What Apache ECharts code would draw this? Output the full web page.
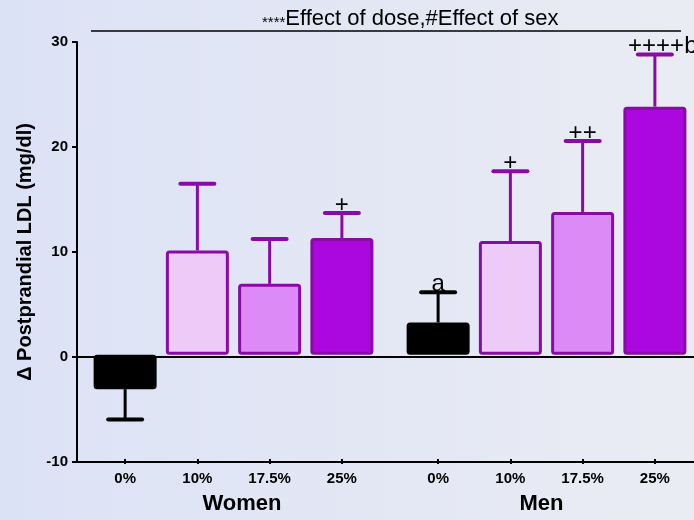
<!DOCTYPE html>
<html>
<head>
<meta charset="utf-8">
<script src="https://cdn.jsdelivr.net/npm/echarts@6/dist/echarts.min.js"></script>
<style>
  html, body { margin: 0; padding: 0; }
  #chart { width: 694px; height: 520px; }
</style>
</head>
<body>
<div id="chart"></div>
<script>
// Dose groups and group values (mean change, SEM, significance marks)
const doses = ['0%', '10%', '17.5%', '25%'];
const womenMean = [-3.3, 10.0, 6.8, 11.2];
const womenErr = [2.9, 6.4, 4.3, 2.4];
const womenMarks = ['', '', '', '+'];
const menMean = [3.1, 10.9, 13.7, 23.8];
const menErr = [2.9, 6.7, 6.8, 5.0];
const menMarks = ['a', '+', '++', '++++b'];
const yTicks = { min: -10, max: 30, step: 10 };
const titleStars = '****';
const titleText = 'Effect of dose,#Effect of sex';
const yName = 'Δ Postprandial LDL (mg/dl)';

const fills = ['#000000', '#eecaf8', '#dc8af6', '#ab08df'];
const edges = ['#000000', '#8a0aa8', '#8a0aa8', '#8a0aa8'];
const FONT = '"Liberation Sans", Arial, sans-serif';

const chart = echarts.init(document.getElementById('chart'));

function barData(means) {
  return means.map((v, i) => ({
    value: v,
    itemStyle: { color: fills[i], borderColor: edges[i], borderWidth: 3, borderRadius: 2 }
  }));
}

function errData(means, errs) {
  return means.map((v, i) => [i, v, errs[i]]);
}

// SEM whisker: stem away from the bar end plus a flat cap
function renderErr(params, api) {
  const i = api.value(0);
  const m = api.value(1);
  const e = api.value(2);
  const end = m >= 0 ? m + e : m - e;
  const p0 = api.coord([i, m]);
  const p1 = api.coord([i, end]);
  const col = edges[i];
  const half = 17;
  return {
    type: 'group',
    children: [
      { type: 'line', shape: { x1: p0[0], y1: p0[1], x2: p1[0], y2: p1[1] },
        style: { stroke: col, lineWidth: 3 } },
      { type: 'line', shape: { x1: p1[0] - half, y1: p1[1], x2: p1[0] + half, y2: p1[1] },
        style: { stroke: col, lineWidth: 4, lineCap: 'round' } }
    ]
  };
}

// significance marks sit just above the whisker cap
function renderMark(marks) {
  return function (params, api) {
    const i = api.value(0);
    const m = api.value(1);
    const e = api.value(2);
    const txt = marks[i];
    if (!txt) return null;
    const p = api.coord([i, m + e]);
    const plusCount = (txt.match(/\+/g) || []).length;
    const hasLetter = /[a-z]/.test(txt.replace(/\+/g, ''));
    let x = p[0];
    let align = 'center';
    if (plusCount > 0 && hasLetter) { x = p[0] - plusCount * 6.7; align = 'left'; }
    return {
      type: 'text',
      style: { text: txt, x: x, y: p[1] - 8, align: align, verticalAlign: 'middle',
               font: '24px ' + FONT, fill: '#000' }
    };
  };
}

const catAxis = (name, gridIndex, pad) => ({
  type: 'category', gridIndex: gridIndex, data: doses,
  axisLine: { show: false, onZero: false },
  axisTick: { show: true, alignWithLabel: true, length: 5, lineStyle: { color: '#000', width: 2 } },
  axisLabel: { color: '#000', fontWeight: 'bold', fontSize: 15, fontFamily: FONT, margin: 12 },
  name: name, nameLocation: 'middle', nameGap: 34,
  nameTextStyle: { color: '#000', fontWeight: 'bold', fontSize: 22, fontFamily: FONT, padding: pad }
});

const hiddenY = (gridIndex) => ({
  type: 'value', gridIndex: gridIndex, min: yTicks.min, max: yTicks.max, interval: yTicks.step,
  show: false, splitLine: { show: false }
});

const option = {
  backgroundColor: {
    type: 'linear', x: 0, y: 0, x2: 1, y2: 0,
    colorStops: [{ offset: 0, color: '#dce2f6' }, { offset: 1, color: '#eaecf3' }]
  },
  animation: false,
  title: {
    text: '{s|' + titleStars + '}{t|' + titleText + '}',
    left: 257, top: 3,
    textStyle: { fontWeight: 'normal', rich: {
      s: { fontSize: 15, fontWeight: 'normal', fontFamily: FONT, color: '#000', verticalAlign: 'bottom', padding: [7, 0, 0, 0] },
      t: { fontSize: 22, fontWeight: 'normal', fontFamily: FONT, color: '#000' }
    } }
  },
  graphic: [{
    type: 'line', shape: { x1: 91, y1: 31, x2: 681, y2: 31 },
    style: { stroke: '#000', lineWidth: 1.5 }
  }],
  grid: [
    { left: 77, right: 0, top: 42, bottom: 58 },
    { left: 89, width: 289, top: 42, bottom: 58 },
    { left: 402, width: 289, top: 42, bottom: 58 }
  ],
  xAxis: [
    { type: 'value', gridIndex: 0, min: 0, max: 1, axisLine: { show: true, onZero: false, lineStyle: { color: '#000', width: 2 } },
      axisTick: { show: false }, axisLabel: { show: false }, splitLine: { show: false } },
    catAxis('Women', 1, [0, 0, 0, 17]),
    catAxis('Men', 2, [0, 10, 0, 0])
  ],
  yAxis: [
    { type: 'value', gridIndex: 0, min: yTicks.min, max: yTicks.max, interval: yTicks.step,
      axisLine: { show: true, lineStyle: { color: '#000', width: 2 } },
      axisTick: { show: true, length: 5, lineStyle: { color: '#000', width: 2 } },
      axisLabel: { color: '#000', fontWeight: 'bold', fontSize: 15, fontFamily: FONT, margin: 9 },
      splitLine: { show: false },
      name: yName, nameLocation: 'middle', nameGap: 32,
      nameTextStyle: { color: '#000', fontWeight: 'bold', fontSize: 20, fontFamily: FONT } },
    hiddenY(1),
    hiddenY(2)
  ],
  series: [
    { type: 'line', xAxisIndex: 0, yAxisIndex: 0, data: [], silent: true,
      markLine: { silent: true, symbol: 'none', label: { show: false },
        lineStyle: { color: '#000', width: 2, type: 'solid' }, data: [{ yAxis: 0 }] } },
    { type: 'bar', xAxisIndex: 1, yAxisIndex: 1, barWidth: 63, data: barData(womenMean), z: 2 },
    { type: 'bar', xAxisIndex: 2, yAxisIndex: 2, barWidth: 63, data: barData(menMean), z: 2 },
    { type: 'custom', xAxisIndex: 1, yAxisIndex: 1, data: errData(womenMean, womenErr), renderItem: renderErr, z: 3 },
    { type: 'custom', xAxisIndex: 2, yAxisIndex: 2, data: errData(menMean, menErr), renderItem: renderErr, z: 3 },
    { type: 'custom', xAxisIndex: 1, yAxisIndex: 1, data: errData(womenMean, womenErr), renderItem: renderMark(womenMarks), z: 4 },
    { type: 'custom', xAxisIndex: 2, yAxisIndex: 2, data: errData(menMean, menErr), renderItem: renderMark(menMarks), z: 4 }
  ]
};

chart.setOption(option);
</script>
</body>
</html>
